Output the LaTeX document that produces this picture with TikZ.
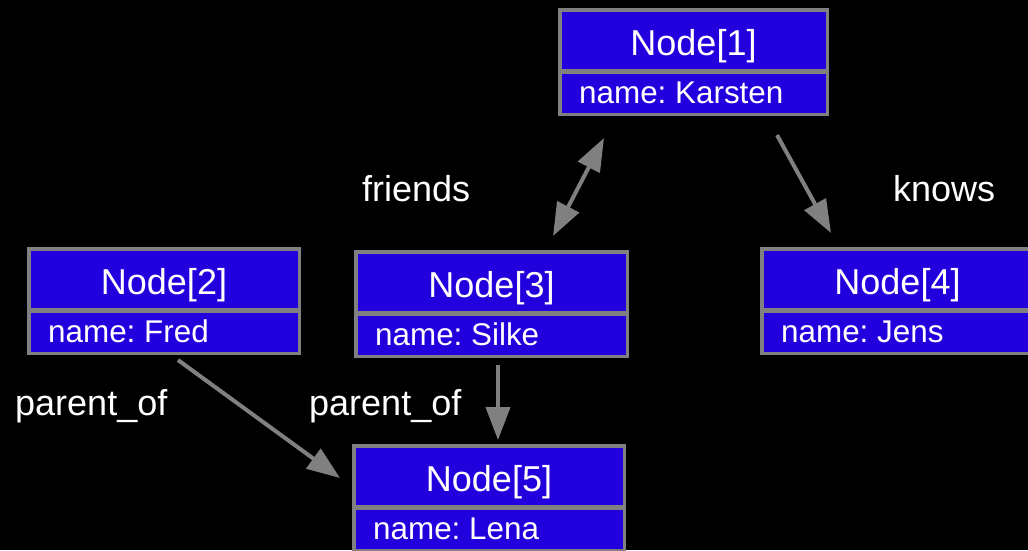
\documentclass[tikz,border=0pt]{standalone}
\usepackage{fontspec}
\setmainfont{Liberation Sans}
\frenchspacing
\usetikzlibrary{arrows.meta}
\definecolor{nodeblue}{RGB}{34,0,221}
\definecolor{edgegray}{RGB}{128,128,128}
\tikzset{
  headbox/.style={draw=edgegray, line width=3.5pt, fill=nodeblue, outer sep=0pt, inner sep=0pt,
    minimum height=61.25pt, text=white, text height=31pt, text depth=0pt, font=\fontsize{36}{43}\selectfont},
  fieldbox/.style={draw=edgegray, line width=3.5pt, fill=nodeblue, outer sep=0pt, inner sep=0pt,
    minimum height=41.75pt, anchor=north},
  fieldtext/.style={text=white, inner sep=0pt, anchor=base west, font=\fontsize{31.4}{37}\selectfont\frenchspacing},
  edgelabel/.style={text=white, inner sep=0pt, anchor=base west, font=\fontsize{36}{43}\selectfont},
  tipa/.tip={Triangle[length=33pt,width=24pt]},
  arr/.style={draw=edgegray, line width=4pt, -tipa},
  darr/.style={draw=edgegray, line width=4pt, tipa-tipa},
}
\begin{document}
\begin{tikzpicture}[x=1pt,y=-1pt]
\useasboundingbox[fill=black] (0,0) rectangle (1028,550);
% Node 1
\node[headbox, minimum width=267.5pt] (n1) at (693.5,40.4) {Node[1]};
\node[fieldbox, minimum width=267.5pt] (n1b) at ([yshift=-1.5pt]n1.south) {};
\node[fieldtext] (n1t) at ([shift={(19.25,-10.75)}]n1b.south west) {name: Karsten};
% Node 2
\node[headbox, minimum width=270.5pt] (n2) at (164,279.4) {Node[2]};
\node[fieldbox, minimum width=270.5pt] (n2b) at ([yshift=-1.5pt]n2.south) {};
\node[fieldtext] (n2t) at ([shift={(19.25,-10.75)}]n2b.south west) {name: Fred};
% Node 3
\node[headbox, minimum width=271.5pt] (n3) at (491.5,282.4) {Node[3]};
\node[fieldbox, minimum width=271.5pt] (n3b) at ([yshift=-1.5pt]n3.south) {};
\node[fieldtext] (n3t) at ([shift={(19.25,-10.75)}]n3b.south west) {name: Silke};
% Node 4
\node[headbox, minimum width=271.5pt] (n4) at (897.5,279.4) {Node[4]};
\node[fieldbox, minimum width=271.5pt] (n4b) at ([yshift=-1.5pt]n4.south) {};
\node[fieldtext] (n4t) at ([shift={(19.25,-10.75)}]n4b.south west) {name: Jens};
% Node 5
\node[headbox, minimum width=270.5pt] (n5) at (489,476.4) {Node[5]};
\node[fieldbox, minimum width=270.5pt] (n5b) at ([yshift=-1.5pt]n5.south) {};
\node[fieldtext] (n5t) at ([shift={(19.25,-10.75)}]n5b.south west) {name: Lena};
% Edges
\draw[darr] ([shift={(61.5,-15.75)}]n3.north) -- ([shift={(-89.5,23.75)}]n1b.south);
\draw[arr] ([shift={(83.5,20.75)}]n1b.south) -- ([shift={(-66.5,-15.75)}]n4.north);
\draw[arr] ([shift={(6.5,8.75)}]n3b.south) -- ([shift={(9,-5.75)}]n5.north);
\draw[arr] ([shift={(14,6.75)}]n2b.south) -- ([shift={(-13.75,1.6)}]n5.west);
% Labels
\node[edgelabel] (lfriends) at (362,201) {friends};
\node[edgelabel] (lknows) at (893,201) {knows};
\node[edgelabel] (lpar1) at (15,415) {parent\_of};
\node[edgelabel] (lpar2) at (309,415) {parent\_of};
\end{tikzpicture}
\end{document}
